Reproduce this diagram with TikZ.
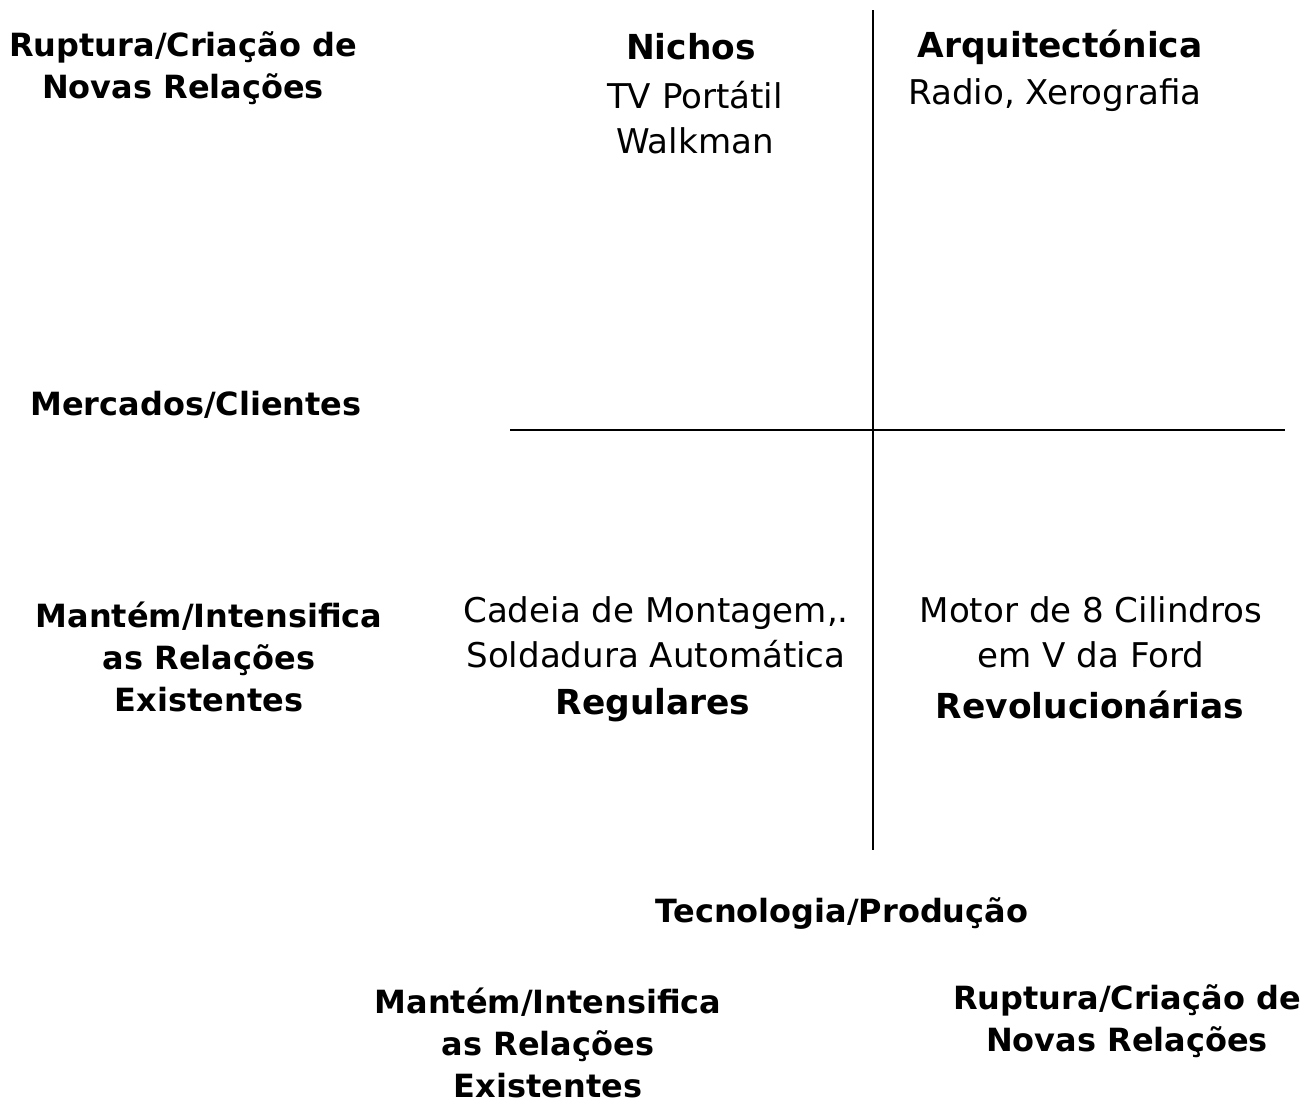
\documentclass[tikz,border=0pt]{standalone}
\usepackage{fontspec}
\setmainfont{DejaVu Sans}
\usetikzlibrary{positioning}

\begin{document}
\begin{tikzpicture}[x=0.02cm, y=-0.02cm,
	eixo/.style={line width=1.2pt},
	titulo/.style={font=\fontsize{18.2}{24}\selectfont\bfseries, align=center, inner sep=0pt},
	quadrante/.style={font=\fontsize{19.6}{26}\selectfont\bfseries, align=center, inner sep=0pt},
	exemplo/.style={font=\fontsize{19.4}{25.5}\selectfont, align=center, inner sep=0pt}]

			\useasboundingbox (0,0) rectangle (1314,1106);

			% eixos
			\coordinate (vtop) at (873,10);
			\coordinate (vbot) at (873,850);
			\coordinate (hleft) at (510,430);
			\coordinate (hright) at (1285,430);
			\draw [eixo] (vtop) -- (vbot);
			\draw [eixo] (hleft) -- (hright);

			% eixo vertical: mercados/clientes
			\node [titulo] (rupturaCli) at (183,68) {Ruptura/Criação de\\Novas Relações};
			\node [titulo] (mercados) at (196,405) {Mercados/Clientes};
			\node [titulo] (mantemCli) at (209,657) {Mantém/Intensifica\\as Relações\\Existentes};

			% quadrantes
			\node [quadrante] (nichos) at (691,47) {Nichos};
			\node [exemplo] (nichosEx) at (695,118) {TV Portátil\\Walkman};
			\node [quadrante] (arq) at (1060,47) {Arquitectónica};
			\node [exemplo] (arqEx) at (1055,95) {Radio, Xerografia};
			\node [exemplo] (regEx) at (656,632) {Cadeia de Montagem,.\\Soldadura Automática};
			\node [quadrante] (reg) at (653,705) {Regulares};
			\node [exemplo] (revEx) at (1091,632) {Motor de 8 Cilindros\\em V da Ford};
			\node [quadrante] (rev) at (1090,705) {Revolucionárias};

			% eixo horizontal: tecnologia/producao
			\node [titulo] (tecnologia) at (842,913) {Tecnologia/Produção};
			\node [titulo] (mantemTec) at (548,1043) {Mantém/Intensifica\\as Relações\\Existentes};
			\node [titulo] (rupturaTec) at (1127,1021) {Ruptura/Criação de\\Novas Relações};
\end{tikzpicture}
\end{document}
